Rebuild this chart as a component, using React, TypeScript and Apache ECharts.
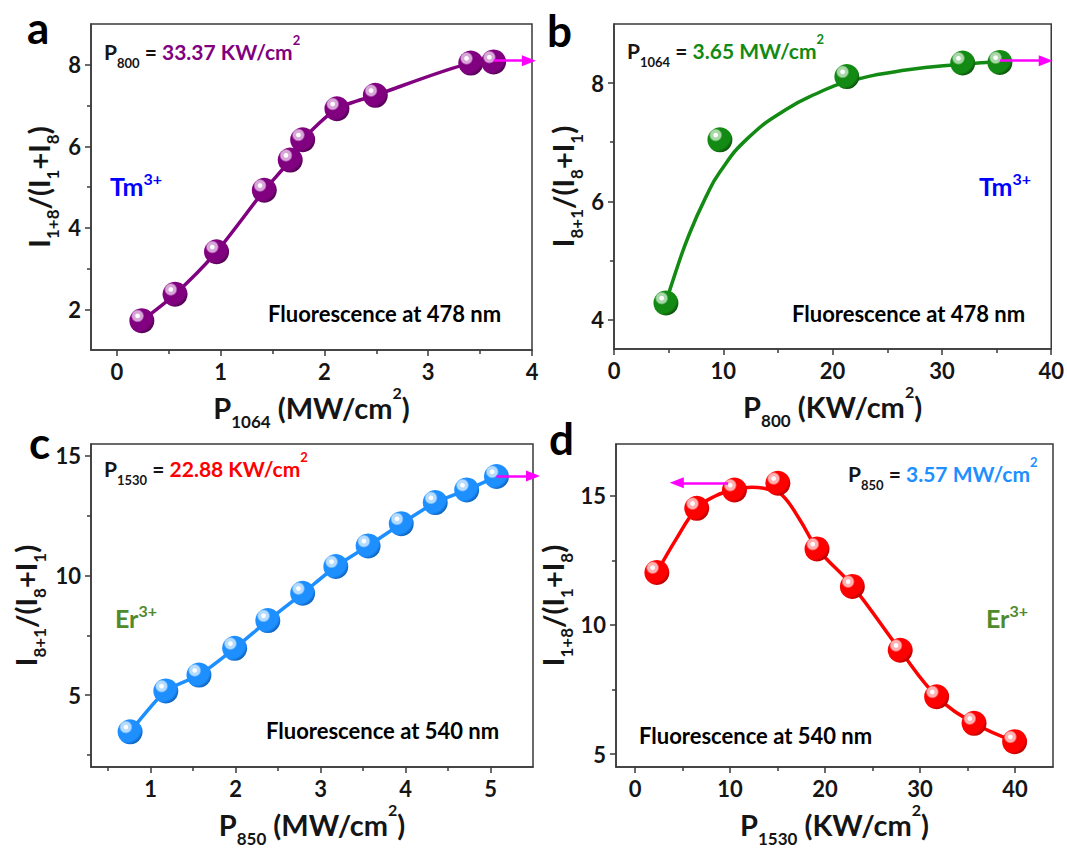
import React, { useEffect, useRef } from 'react';
import * as echarts from 'echarts';

// ---------- data ----------
const aX = [0.24, 0.56, 0.96, 1.42, 1.67, 1.79, 2.12, 2.49, 3.41, 3.63];
const aY = [1.72, 2.37, 3.41, 4.92, 5.66, 6.16, 6.92, 7.25, 8.04, 8.07];

const bX = [4.75, 9.69, 21.3, 31.9, 35.3];
const bY = [4.28, 7.04, 8.11, 8.34, 8.35];
const bFitX = [4.75, 5.6, 6.9, 8.4, 9.7, 12.2, 15.7, 18.5, 21.3, 26.7, 31.9, 35.3];
const bFitY = [4.28, 4.78, 5.45, 6.07, 6.5, 7.06, 7.55, 7.82, 8.02, 8.22, 8.32, 8.36];

const cX = [0.76, 1.18, 1.57, 1.99, 2.38, 2.79, 3.18, 3.56, 3.95, 4.35, 4.72, 5.07];
const cY = [3.47, 5.18, 5.84, 6.96, 8.12, 9.26, 10.38, 11.24, 12.17, 13.05, 13.58, 14.14];

const dX = [2.3, 6.5, 10.47, 15.04, 19.16, 22.88, 27.92, 31.75, 35.69, 39.96];
const dY = [12.03, 14.51, 15.22, 15.48, 12.94, 11.49, 9.02, 7.22, 6.19, 5.48];
const dFitX = [2.3, 4.3, 6.5, 8.4, 10.5, 12.3, 14.0, 15.5, 17.3, 19.2, 22.9, 27.9, 31.8, 35.7, 40.0];
const dFitY = [12.03, 13.3, 14.51, 14.98, 15.25, 15.33, 15.25, 15.02, 14.1, 12.95, 11.5, 9.02, 7.22, 6.19, 5.48];

// axis ticks
const aXMajor = [0, 1, 2, 3, 4];
const aXMinor = [0.5, 1.5, 2.5, 3.5];
const aYMajor = [2, 4, 6, 8];
const aYMinor = [3, 5, 7];
const bXMajor = [0, 10, 20, 30, 40];
const bXMinor = [5, 15, 25, 35];
const bYMajor = [4, 6, 8];
const bYMinor = [5, 7];
const cXMajor = [1, 2, 3, 4, 5];
const cXMinor = [0.5, 1.5, 2.5, 3.5, 4.5];
const cYMajor = [5, 10, 15];
const cYMinor = [2.5, 7.5, 12.5];
const dXMajor = [0, 10, 20, 30, 40];
const dXMinor = [5, 15, 25, 35];
const dYMajor = [5, 10, 15];
const dYMinor = [7.5, 12.5];

// arrows [from, to]
const aArrow = [[3.63, 8.1], [3.97, 8.1]];
const bArrow = [[35.3, 8.38], [39.5, 8.38]];
const cArrow = [[5.07, 14.16], [5.5, 14.16]];
const dArrow = [[9.8, 15.5], [4.4, 15.5]];

// ---------- styling ----------
const FONT = 'Lato';
const AXC = '#3a3a3a';
const TXT = '#151515';
const MAGENTA = '#FF00FF';

const grids = [
  { left: 91, top: 24, width: 441, height: 326 },
  { left: 614, top: 24, width: 438, height: 325 },
  { left: 91, top: 444, width: 442, height: 324 },
  { left: 616, top: 444, width: 437, height: 324 },
];

function sphere(base: string, light: string, dark: string) {
  return {
    type: 'radial',
    x: 0.33,
    y: 0.31,
    r: 0.74,
    colorStops: [
      { offset: 0, color: '#ffffff' },
      { offset: 0.1, color: '#ffffff' },
      { offset: 0.15, color: light },
      { offset: 0.27, color: light },
      { offset: 0.36, color: base },
      { offset: 0.8, color: base },
      { offset: 1, color: dark },
    ],
  };
}

const nameRich = {
  m: { fontFamily: FONT, fontWeight: 'bold', fontSize: 29, lineHeight: 46, color: TXT },
  s: { fontFamily: FONT, fontWeight: 'bold', fontSize: 17, lineHeight: 12, verticalAlign: 'bottom', color: TXT },
  u: { fontFamily: FONT, fontWeight: 'bold', fontSize: 16, lineHeight: 16, verticalAlign: 'top', color: TXT },
};

function xAxes(gi: number, min: number, max: number, major: number[], minor: number[], name: string) {
  return [
    {
      type: 'value', gridIndex: gi, position: 'bottom', min, max,
      axisLine: { show: true, onZero: false, lineStyle: { color: AXC, width: 1.5 } },
      axisTick: { show: true, customValues: major, length: 6, lineStyle: { color: AXC, width: 1.5 } },
      axisLabel: { show: true, customValues: major, margin: 10, fontFamily: FONT, fontWeight: 'bold', fontSize: 22, color: TXT },
      splitLine: { show: false },
      name, nameLocation: 'middle', nameGap: 34,
      nameTextStyle: { rich: nameRich },
    },
    {
      type: 'value', gridIndex: gi, position: 'bottom', min, max,
      axisLine: { show: false, onZero: false },
      axisTick: { show: true, customValues: minor, length: 4, lineStyle: { color: AXC, width: 1.5 } },
      axisLabel: { show: false },
      splitLine: { show: false },
    },
  ];
}

function yAxes(gi: number, min: number, max: number, major: number[], minor: number[], name: string, gap: number) {
  return [
    {
      type: 'value', gridIndex: gi, position: 'left', min, max,
      axisLine: { show: true, onZero: false, lineStyle: { color: AXC, width: 1.5 } },
      axisTick: { show: true, customValues: major, length: 6, lineStyle: { color: AXC, width: 1.5 } },
      axisLabel: { show: true, customValues: major, margin: 10, fontFamily: FONT, fontWeight: 'bold', fontSize: 22, color: TXT },
      splitLine: { show: false },
      name, nameLocation: 'middle', nameGap: gap, nameRotate: 90,
      nameTextStyle: { rich: nameRich },
    },
    {
      type: 'value', gridIndex: gi, position: 'left', min, max,
      axisLine: { show: false, onZero: false },
      axisTick: { show: true, customValues: minor, length: 4, lineStyle: { color: AXC, width: 1.5 } },
      axisLabel: { show: false },
      splitLine: { show: false },
    },
  ];
}

function arrow(pts: number[][]) {
  return {
    silent: true,
    symbol: ['none', 'triangle'],
    symbolSize: [11, 14],
    label: { show: false },
    lineStyle: { color: MAGENTA, width: 2.5, type: 'solid' },
    itemStyle: { color: MAGENTA },
    emphasis: { disabled: true },
    data: [[{ coord: pts[0] }, { coord: pts[1] }]],
  };
}

const zip = (xs: number[], ys: number[]) => xs.map((x, i) => [x, ys[i]]);

function annot(x: number, y: number, sub: string, value: string, color: string) {
  return {
    type: 'text', x, y, z: 50,
    style: {
      text: `{p|P}{s|${sub}}{p| = }{v|${value}}{u|2}`,
      align: 'left', verticalAlign: 'middle',
      rich: {
        p: { fontFamily: FONT, fontWeight: 'bold', fontSize: 21, lineHeight: 36, fill: TXT },
        v: { fontFamily: FONT, fontWeight: 'bold', fontSize: 21, lineHeight: 36, fill: color },
        s: { fontFamily: FONT, fontWeight: 'bold', fontSize: 13, lineHeight: 9, verticalAlign: 'bottom', fill: TXT },
        u: { fontFamily: FONT, fontWeight: 'bold', fontSize: 13, lineHeight: 13, verticalAlign: 'top', fill: color },
      },
    },
  };
}

function ion(x: number, y: number, base: string, color: string) {
  return {
    type: 'text', x, y, z: 50,
    style: {
      text: `{m|${base}}{u|3+}`,
      align: 'left', verticalAlign: 'middle',
      rich: {
        m: { fontFamily: FONT, fontWeight: 'bold', fontSize: 25, lineHeight: 32, fill: color },
        u: { fontFamily: FONT, fontWeight: 'bold', fontSize: 16, lineHeight: 25, verticalAlign: 'top', fill: color },
      },
    },
  };
}

function plain(x: number, y: number, text: string, size: number) {
  return {
    type: 'text', x, y, z: 50,
    style: { text, align: 'left', verticalAlign: 'middle', fontFamily: FONT, fontWeight: 'bold', fontSize: size, fill: '#000' },
  };
}

export default function App() {
  const ref = useRef<HTMLDivElement>(null);
  useEffect(() => {
    if (!ref.current) return;
    const chart = echarts.init(ref.current, undefined, { renderer: 'svg' });

    const purple = sphere('#800080', '#d9a6d9', '#4d004d');
    const green = sphere('#138a13', '#a8d8a8', '#0a4f0a');
    const blue = sphere('#1e8fff', '#b5dcff', '#0b5fb8');
    const red = sphere('#ff0000', '#ffb0b0', '#b00000');

    const option: any = {
      animation: false,
      textStyle: { fontFamily: FONT },
      grid: grids.map((g) => ({ ...g, show: true, borderColor: AXC, borderWidth: 1.5, backgroundColor: 'transparent', containLabel: false })),
      xAxis: [
        ...xAxes(0, -0.25, 4, aXMajor, aXMinor, '{m|P}{s|1064}{m| (MW/cm}{u|2}{m|)}'),
        ...xAxes(1, 0, 40, bXMajor, bXMinor, '{m|P}{s|800}{m| (KW/cm}{u|2}{m|)}'),
        ...xAxes(2, 0.3, 5.5, cXMajor, cXMinor, '{m|P}{s|850}{m| (MW/cm}{u|2}{m|)}'),
        ...xAxes(3, -2, 44, dXMajor, dXMinor, '{m|P}{s|1530}{m| (KW/cm}{u|2}{m|)}'),
      ],
      yAxis: [
        ...yAxes(0, 1, 9, aYMajor, aYMinor, '{m|I}{s|1+8}{m|/(I}{s|1}{m|+I}{s|8}{m|)}', 30),
        ...yAxes(1, 3.5, 9, bYMajor, bYMinor, '{m|I}{s|8+1}{m|/(I}{s|8}{m|+I}{s|1}{m|)}', 29),
        ...yAxes(2, 2, 15.5, cYMajor, cYMinor, '{m|I}{s|8+1}{m|/(I}{s|8}{m|+I}{s|1}{m|)}', 43),
        ...yAxes(3, 4.5, 17, dYMajor, dYMinor, '{m|I}{s|1+8}{m|/(I}{s|1}{m|+I}{s|8}{m|)}', 41),
      ],
      series: [
        {
          type: 'line', xAxisIndex: 0, yAxisIndex: 0, data: zip(aX, aY), smooth: 0.25,
          symbol: 'circle', symbolSize: 25, itemStyle: { color: purple, borderWidth: 0 },
          lineStyle: { color: '#800080', width: 3.5 }, markLine: arrow(aArrow), z: 3,
        },
        {
          type: 'line', xAxisIndex: 2, yAxisIndex: 2, data: zip(bFitX, bFitY), smooth: 0.5,
          showSymbol: false, lineStyle: { color: '#138a13', width: 3.5 }, z: 2,
        },
        {
          type: 'scatter', xAxisIndex: 2, yAxisIndex: 2, data: zip(bX, bY),
          symbol: 'circle', symbolSize: 25, itemStyle: { color: green, opacity: 1 }, markLine: arrow(bArrow), z: 3,
        },
        {
          type: 'line', xAxisIndex: 4, yAxisIndex: 4, data: zip(cX, cY), smooth: 0.2,
          symbol: 'circle', symbolSize: 25, itemStyle: { color: blue, borderWidth: 0 },
          lineStyle: { color: '#1e8fff', width: 3.5 }, markLine: arrow(cArrow), z: 3,
        },
        {
          type: 'line', xAxisIndex: 6, yAxisIndex: 6, data: zip(dFitX, dFitY), smooth: 0.4,
          showSymbol: false, lineStyle: { color: '#ff0000', width: 3.5 }, z: 2,
        },
        {
          type: 'scatter', xAxisIndex: 6, yAxisIndex: 6, data: zip(dX, dY),
          symbol: 'circle', symbolSize: 25, itemStyle: { color: red, opacity: 1 }, markLine: arrow(dArrow), z: 3,
        },
      ],
      graphic: [
        plain(27, 27, 'a', 44),
        plain(547, 30, 'b', 44),
        plain(29, 442, 'c', 44),
        plain(549, 438, 'd', 44),
        annot(104, 51, '800', '33.37 KW/cm', '#800080'),
        annot(627, 50, '1064', '3.65 MW/cm', '#138a13'),
        annot(104, 468, '1530', '22.88 KW/cm', '#ff0000'),
        annot(848, 473, '850', '3.57 MW/cm', '#1e8fff'),
        ion(110, 186, 'Tm', '#0000ff'),
        ion(979, 186, 'Tm', '#0000ff'),
        ion(115, 618, 'Er', '#4f8a2b'),
        ion(986, 618, 'Er', '#4f8a2b'),
        plain(268, 313, 'Fluorescence at 478 nm', 22),
        plain(792, 313, 'Fluorescence at 478 nm', 22),
        plain(266, 730, 'Fluorescence at 540 nm', 22),
        plain(639, 735, 'Fluorescence at 540 nm', 22),
      ],
    };
    chart.setOption(option);
    return () => chart.dispose();
  }, []);
  return (
    <div
      ref={ref}
      style={{ position: 'fixed', left: 0, top: 0, width: 1067, height: 848, background: '#ffffff' }}
    />
  );
}
